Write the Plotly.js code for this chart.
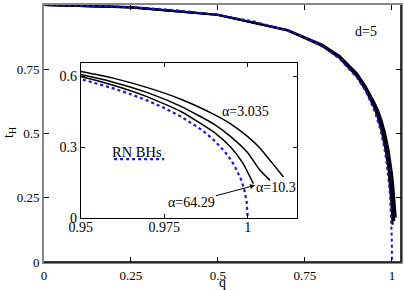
<!DOCTYPE html>
<html><head><meta charset="utf-8">
<script src="https://cdn.plot.ly/plotly-3.0.1.min.js"></script>
<style>html,body{margin:0;padding:0;background:#fff}#c{width:405px;height:290px}</style>
</head><body><div id="c"></div>
<script>
// RN black holes (blue dotted)
const rnQ = [0, 0.1, 0.2, 0.3, 0.4, 0.5, 0.6, 0.7, 0.75, 0.8, 0.85, 0.9, 0.925, 0.95, 0.955, 0.96, 0.965, 0.97, 0.975, 0.98, 0.985, 0.9875, 0.99, 0.993, 0.9945, 0.996, 0.998, 0.999, 0.9997, 1.0];
const rnT = [1.0, 0.9987, 0.9948, 0.9879, 0.9771, 0.9610, 0.9370, 0.9000, 0.8736, 0.8385, 0.7898, 0.7165, 0.6630, 0.5875, 0.5682, 0.5469, 0.5231, 0.4961, 0.4651, 0.4287, 0.3844, 0.3579, 0.3274, 0.2825, 0.2551, 0.2223, 0.1631, 0.1184, 0.0668, 0.0];
// alpha = 3.035
const a1Q = [0, 0.25, 0.5, 0.7, 0.8, 0.85, 0.9, 0.925, 0.95, 0.96, 0.97, 0.98, 0.99, 0.995, 1.0, 1.0035, 1.0072, 1.0107];
const a1T = [1.0, 0.992, 0.962, 0.903, 0.845, 0.801, 0.733, 0.682, 0.619, 0.590, 0.551, 0.502, 0.437, 0.397, 0.344, 0.298, 0.235, 0.173];
// alpha = 10.3
const a2Q = [0, 0.25, 0.5, 0.7, 0.8, 0.85, 0.9, 0.925, 0.95, 0.96, 0.97, 0.98, 0.99, 0.995, 1.0, 1.0035, 1.0067];
const a2T = [1.0, 0.991, 0.962, 0.902, 0.842, 0.796, 0.726, 0.674, 0.606, 0.573, 0.530, 0.472, 0.396, 0.343, 0.276, 0.205, 0.159];
// alpha = 64.29
const a3Q = [0, 0.25, 0.5, 0.7, 0.8, 0.85, 0.9, 0.925, 0.95, 0.96, 0.97, 0.98, 0.99, 0.995, 0.9985, 1.0017];
const a3T = [1.0, 0.991, 0.961, 0.901, 0.840, 0.793, 0.721, 0.668, 0.598, 0.560, 0.512, 0.450, 0.362, 0.298, 0.233, 0.145];

const mainTicks = [0, 0.25, 0.5, 0.75, 1];
const mainTickText = ['0', '0.25', '0.5', '0.75', '1'];
const insetXTicks = [0.95, 0.975, 1];
const insetXText = ['0.95', '0.975', '1'];
const insetYTicks = [0, 0.3, 0.6];
const insetYText = ['0', '0.3', '0.6'];

const F = "Liberation Serif, DejaVu Serif, serif";
const blue = '#1414f0';

const traces = [];
[[a1Q,a1T],[a2Q,a2T],[a3Q,a3T]].forEach(([q,t])=>{
  traces.push({x:q, y:t, xaxis:'x', yaxis:'y', mode:'lines', line:{color:'#000', width:2.2}, showlegend:false, hoverinfo:'skip'});
});
traces.push({x:rnQ, y:rnT, xaxis:'x', yaxis:'y', mode:'lines', line:{color:blue, width:2, dash:'dot'}, showlegend:false, hoverinfo:'skip'});
[[a1Q,a1T],[a2Q,a2T],[a3Q,a3T]].forEach(([q,t])=>{
  traces.push({x:q, y:t, xaxis:'x2', yaxis:'y2', mode:'lines', line:{color:'#000', width:1.5, shape:'spline', smoothing:0.5}, showlegend:false, hoverinfo:'skip'});
});
traces.push({x:rnQ, y:rnT, xaxis:'x2', yaxis:'y2', mode:'lines', line:{color:blue, width:2.2, dash:'dot'}, showlegend:false, hoverinfo:'skip'});

const layout = {
  width:405, height:290,
  margin:{l:44, r:4, t:5, b:28},
  paper_bgcolor:'#fff', plot_bgcolor:'#fff',
  font:{family:F, size:12, color:'#000'},
  xaxis:{range:[0,1.026], tickvals:mainTicks, ticktext:mainTickText, ticks:'inside', ticklen:5, tickcolor:'#000',
         showline:true, linecolor:'#888', linewidth:2, mirror:'ticks', showgrid:false, zeroline:false,
         tickfont:{family:F, size:13}},
  yaxis:{range:[0,1], tickvals:mainTicks, ticktext:mainTickText, ticks:'inside', ticklen:5, tickcolor:'#000',
         showline:true, linecolor:'#888', linewidth:2, mirror:'ticks', showgrid:false, zeroline:false,
         tickfont:{family:F, size:13}},
  xaxis2:{domain:[0.1028,0.7087], anchor:'y2', range:[0.95,1.01476], tickvals:insetXTicks, ticktext:insetXText,
          ticks:'inside', ticklen:4, tickcolor:'#000', showline:true, linecolor:'#000', linewidth:1, mirror:'ticks',
          showgrid:false, zeroline:false, tickfont:{family:F, size:14}, ticklabelstandoff:-4},
  yaxis2:{domain:[0.1712,0.7743], anchor:'x2', range:[0,0.655], tickvals:insetYTicks, ticktext:insetYText,
          ticks:'inside', ticklen:4, tickcolor:'#000', showline:true, linecolor:'#000', linewidth:1, mirror:'ticks',
          showgrid:false, zeroline:false, tickfont:{family:F, size:14}},
  shapes:[
    {type:'line', xref:'paper', yref:'paper', x0:0, x1:1, y0:0, y1:0, line:{color:'#000', width:1.5}, layer:'above'},
    {type:'line', xref:'paper', yref:'paper', x0:1, x1:1, y0:0, y1:1, line:{color:'#000', width:1.5}, layer:'above'},
    {type:'line', xref:'x2', yref:'y2', x0:0.96, x1:0.975, y0:0.249, y1:0.249, line:{color:blue, width:2.2, dash:'dot'}}
  ],
  annotations:[
    {xref:'paper', yref:'paper', x:0.4986, y:-0.0817, text:'q', showarrow:false, font:{family:F, size:14}, xanchor:'center', yanchor:'middle'},
    {xref:'paper', yref:'paper', x:-0.0952, y:0.502, text:'t<sub>H</sub>', textangle:-90, showarrow:false, font:{family:F, size:14}, xanchor:'center', yanchor:'middle'},
    {xref:'x', yref:'y', x:0.925, y:0.896, text:'d=5', showarrow:false, font:{family:F, size:14}},
    {xref:'x2', yref:'y2', x:0.9992, y:0.448, text:'α=3.035', showarrow:false, font:{family:F, size:14}},
    {xref:'x2', yref:'y2', x:1.0085, y:0.131, text:'α=10.3', showarrow:false, font:{family:F, size:14}},
    {xref:'x2', yref:'y2', x:0.967, y:0.28, text:'RN BHs', showarrow:false, font:{family:F, size:14.5}},
    {xref:'x2', yref:'y2', x:1.0022, y:0.138, text:'α=64.29', showarrow:true, arrowhead:2, arrowsize:1, arrowwidth:1,
     arrowcolor:'#000', ax:-64, ay:17, font:{family:F, size:14}}
  ]
};
Plotly.newPlot('c', traces, layout, {staticPlot:true, displayModeBar:false});
</script></body></html>
